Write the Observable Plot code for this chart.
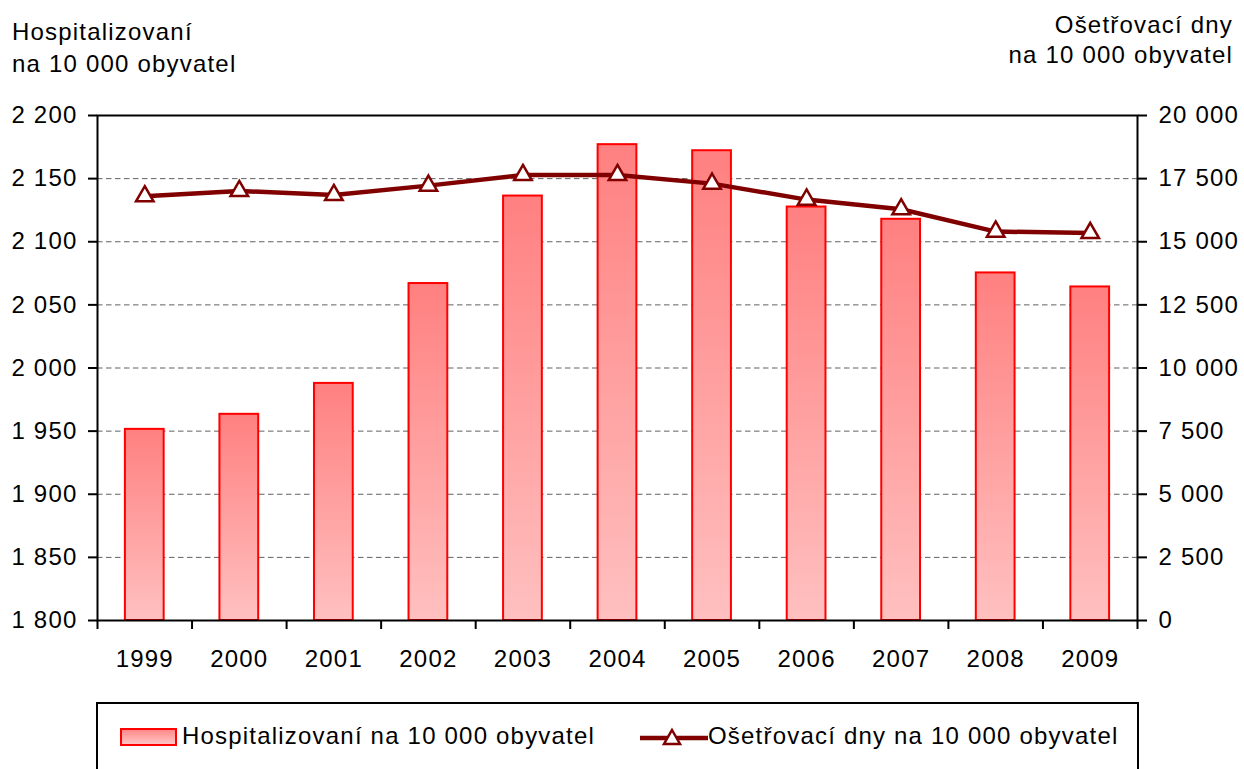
<!DOCTYPE html>
<html><head><meta charset="utf-8">
<script src="https://cdn.jsdelivr.net/npm/d3@7"></script>
<script src="https://cdn.jsdelivr.net/npm/@observablehq/plot@0.6"></script>
<style>
body{margin:0;background:#fff;font-family:"Liberation Sans",Arial,sans-serif;}
#wrap{position:relative;width:1244px;height:769px;overflow:hidden;background:#fff;}
#head{position:relative;height:100px;}
.t{position:absolute;font-size:24px;letter-spacing:1.2px;color:#000;white-space:nowrap;}
#legend{position:absolute;left:96px;top:702px;width:1043px;height:100px;border:2px solid #000;box-sizing:border-box;}
.sw{position:absolute;left:22px;top:24px;width:57px;height:18px;box-sizing:border-box;border:2px solid #ff0000;background:linear-gradient(#ff8a8a,#ffc4c4);}
.lt{position:absolute;font-size:24px;letter-spacing:1.2px;line-height:26px;white-space:nowrap;}
</style></head><body>
<div id="wrap">
  <div id="head">
    <div class="t" style="left:12px;top:16px;line-height:32px;">Hospitalizovaní<br>na 10 000 obyvatel</div>
    <div class="t" style="right:11px;top:10px;line-height:30px;text-align:right;">Ošetřovací dny<br>na 10 000 obyvatel</div>
  </div>
  <div id="chart"></div>
  <div id="legend">
    <div class="sw"></div>
    <div class="lt" style="left:84px;top:19px;">Hospitalizovaní na 10 000 obyvatel</div>
    <svg style="position:absolute;left:542px;top:23px;" width="68" height="22">
      <line x1="0" y1="11" x2="68" y2="11" stroke="#800000" stroke-width="4.5"/>
      <path d="M32,3 L40,17 L24,17 Z" fill="#fff" stroke="#800000" stroke-width="2.5" stroke-linejoin="miter"/>
    </svg>
    <div class="lt" style="left:610px;top:19px;">Ošetřovací dny na 10 000 obyvatel</div>
  </div>
</div>
<script>
const years = ["1999","2000","2001","2002","2003","2004","2005","2006","2007","2008","2009"];
const hospitalizovani = [1951.4, 1963.3, 1987.8, 2066.9, 2136.2, 2176.9, 2172.1, 2127.5, 2117.8, 2075.3, 2064.2];
const osetrovaciDny = [16800, 17010, 16851, 17223, 17642, 17642, 17302, 16669, 16285, 15403, 15348];
const leftTicks = [1800, 1850, 1900, 1950, 2000, 2050, 2100, 2150, 2200];
const rightTicks = [0, 2500, 5000, 7500, 10000, 12500, 15000, 17500, 20000];

const data = years.map((y, i) => ({year: y, h: hospitalizovani[i], o: osetrovaciDny[i]}));
const fmt = d3.formatLocale({decimal: ",", thousands: " ", grouping: [3]}).format(",");
const lMin = leftTicks[0], lMax = leftTicks[leftTicks.length - 1];
const rMin = rightTicks[0], rMax = rightTicks[rightTicks.length - 1];
const toLeft = v => lMin + (v - rMin) * (lMax - lMin) / (rMax - rMin);
const fromLeft = d => Math.round(rMin + (d - lMin) * (rMax - rMin) / (lMax - lMin));

const W = 1244, mL = 97, mR = 107;
const step = (W - mL - mR) / years.length;
const font = '"Liberation Sans", Arial, sans-serif';

const plot = Plot.plot({
  width: W, height: 600,
  marginLeft: mL, marginRight: mR, marginTop: 15, marginBottom: 80,
  style: {fontFamily: font, fontSize: "24px", letterSpacing: "1.2px", color: "#000", background: "#fff", overflow: "visible"},
  x: {domain: years, paddingInner: 0.59, paddingOuter: 0.295, round: false, axis: null},
  y: {domain: [lMin, lMax], axis: null},
  marks: [
    Plot.gridY(leftTicks.slice(1, -1), {stroke: "#606060", strokeOpacity: 1, strokeWidth: 1, strokeDasharray: "5.5,3.5"}),
    Plot.barY(data, {x: "year", y1: lMin, y2: "h", fill: "url(#barGrad)", stroke: "#ff0000", strokeWidth: 2}),
    Plot.frame({stroke: "#000", strokeWidth: 2}),
    Plot.ruleX(years, {x: d => d, y1: lMin, y2: lMin, insetBottom: -9, dx: -step / 2, stroke: "#000", strokeWidth: 2}),
    Plot.ruleX(years.slice(-1), {x: d => d, y1: lMin, y2: lMin, insetBottom: -9, dx: step / 2, stroke: "#000", strokeWidth: 2}),
    Plot.line(data, {x: "year", y: d => toLeft(d.o), stroke: "#800000", strokeWidth: 4.5}),
    Plot.dot(data, {x: "year", y: d => toLeft(d.o), symbol: "triangle", r: 6.5, fill: "#fff", stroke: "#800000", strokeWidth: 2.5}),
    Plot.axisX({tickSize: 0, tickPadding: 29, label: null, fontSize: 24}),
    Plot.axisY({anchor: "left", ticks: leftTicks, tickSize: 9, tickPadding: 11, tickFormat: fmt, label: null, fontSize: 24, strokeWidth: 2}),
    Plot.axisY({anchor: "right", ticks: rightTicks.map(toLeft), tickSize: 9, tickPadding: 12, tickFormat: d => fmt(fromLeft(d)), label: null, fontSize: 24, strokeWidth: 2})
  ]
});

const ns = "http://www.w3.org/2000/svg";
const defs = document.createElementNS(ns, "defs");
const grad = document.createElementNS(ns, "linearGradient");
grad.setAttribute("id", "barGrad");
grad.setAttribute("x1", "0"); grad.setAttribute("y1", "0");
grad.setAttribute("x2", "0"); grad.setAttribute("y2", "1");
[["0%", "#ff8080"], ["100%", "#ffc0c0"]].forEach(([o, c]) => {
  const s = document.createElementNS(ns, "stop");
  s.setAttribute("offset", o); s.setAttribute("stop-color", c);
  grad.appendChild(s);
});
defs.appendChild(grad);
plot.insertBefore(defs, plot.firstChild);
document.getElementById("chart").appendChild(plot);
</script>
</body></html>
